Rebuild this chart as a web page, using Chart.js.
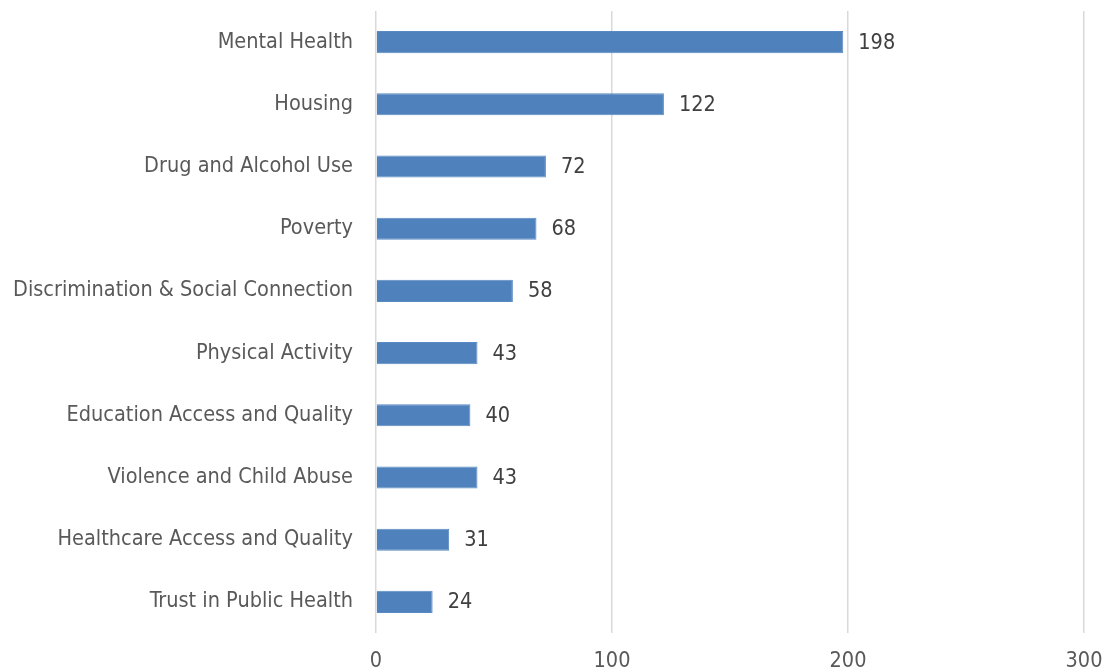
<!DOCTYPE html>
<html>
<head>
<meta charset="utf-8">
<script src="https://cdn.jsdelivr.net/npm/chart.js@4"></script>
<style>
  html, body { margin: 0; padding: 0; background: #fff; }
  #wrap { width: 1106px; height: 670px; position: relative; }
</style>
</head>
<body>
<div id="wrap"><canvas id="issuesChart"></canvas></div>
<script>
const categories = [
  'Mental Health',
  'Housing',
  'Drug and Alcohol Use',
  'Poverty',
  'Discrimination & Social Connection',
  'Physical Activity',
  'Education Access and Quality',
  'Violence and Child Abuse',
  'Healthcare Access and Quality',
  'Trust in Public Health'
];
const counts = [198, 122, 72, 68, 58, 43, 40, 43, 31, 24];
const xTicks = [0, 100, 200, 300];

const fontFamily = "'Liberation Sans Narrow', 'DejaVu Sans Condensed', 'Liberation Sans', sans-serif";
const fontSize = 21.5;

// value labels at the end of each bar
const barValueLabels = {
  id: 'barValueLabels',
  afterDatasetsDraw(chart) {
    const ctx = chart.ctx;
    const meta = chart.getDatasetMeta(0);
    ctx.save();
    ctx.font = fontSize + 'px ' + fontFamily;
    ctx.fillStyle = '#404040';
    ctx.textAlign = 'left';
    ctx.textBaseline = 'middle';
    meta.data.forEach(function (bar, i) {
      ctx.fillText(String(counts[i]), bar.x + 15, bar.y + 1);
    });
    ctx.restore();
  }
};

const ctx = document.getElementById('issuesChart').getContext('2d');

const config = {
  type: 'bar',
  data: {
    labels: categories,
    datasets: [{
      data: counts,
      backgroundColor: '#4f81bd',
      borderColor: '#5a8ac4',
      borderWidth: 1,
      barPercentage: 0.355,
      categoryPercentage: 1.0
    }]
  },
  options: {
    indexAxis: 'y',
    responsive: true,
    maintainAspectRatio: false,
    animation: false,
    layout: {
      padding: { top: 11, right: 22, left: 0, bottom: 0 }
    },
    plugins: {
      legend: { display: false },
      tooltip: { enabled: false }
    },
    scales: {
      x: {
        min: 0,
        max: 300,
        afterBuildTicks(axis) {
          axis.ticks = xTicks.map(v => ({ value: v }));
        },
        afterFit(axis) {
          axis.height = 37;
          axis.paddingLeft = 0;
          axis.paddingRight = 0;
        },
        grid: { color: '#d9d9d9', lineWidth: 1.5, drawTicks: false },
        border: { display: false },
        ticks: {
          padding: 16,
          color: '#595959',
          font: { size: fontSize, family: fontFamily }
        }
      },
      y: {
        afterFit(axis) {
          axis.width = 376;
          axis.paddingTop = 0;
          axis.paddingBottom = 0;
        },
        grid: { display: false, drawTicks: false },
        border: { display: false },
        ticks: {
          padding: 23,
          color: '#595959',
          font: { size: fontSize, family: fontFamily }
        }
      }
    }
  },
  plugins: [barValueLabels]
};

const issuesChart = new Chart(ctx, config);
</script>
</body>
</html>
